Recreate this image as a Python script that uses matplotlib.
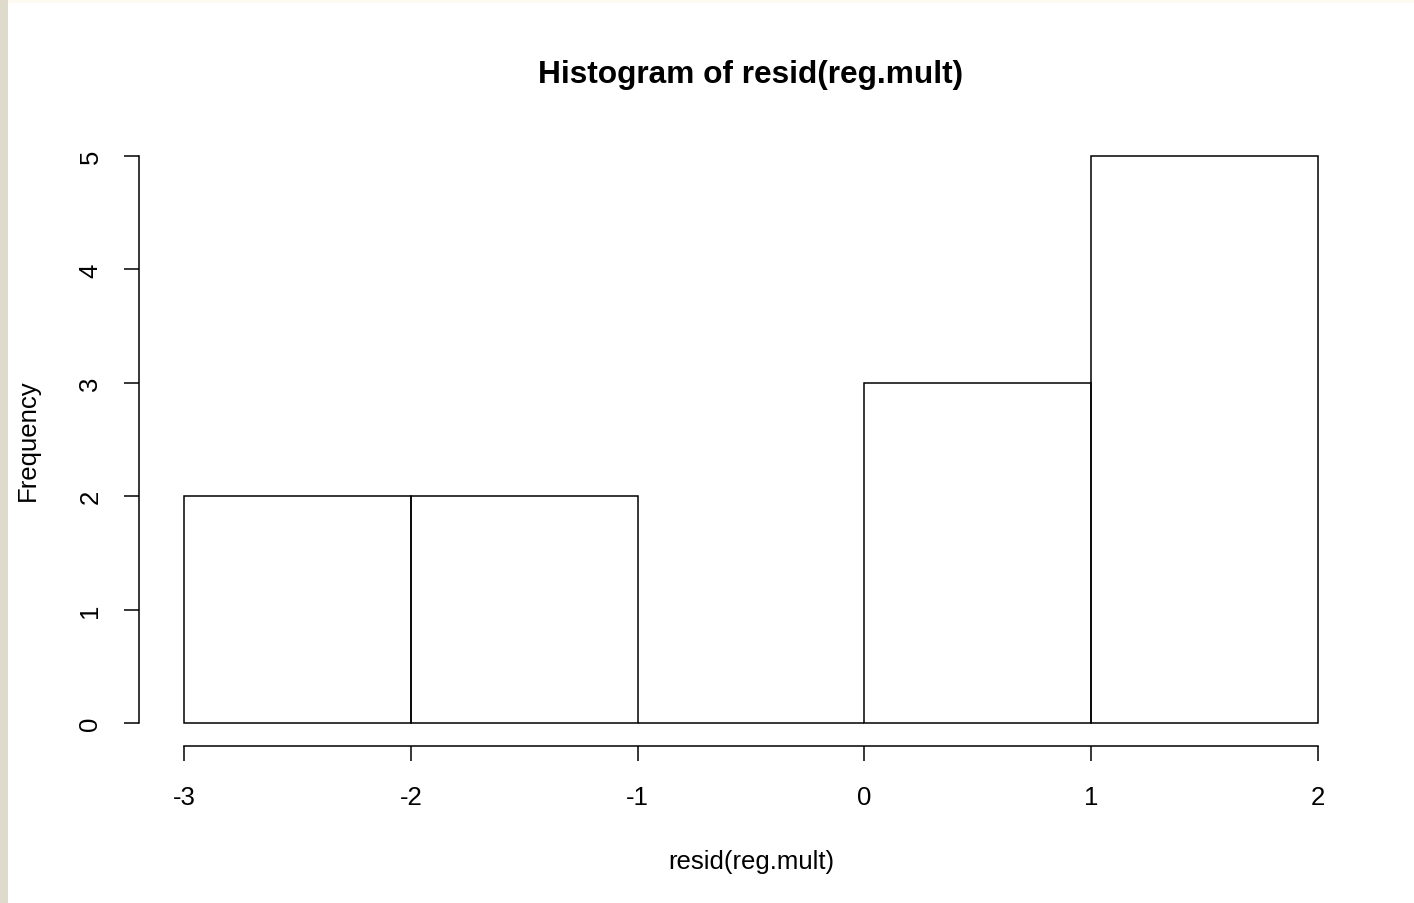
import numpy as np
import matplotlib.pyplot as plt
from matplotlib.patches import Rectangle

# histogram data
bin_edges = [-3, -2, -1, 0, 1, 2]
counts = [2, 2, 0, 3, 5]
y_ticks = [0, 1, 2, 3, 4, 5]

plt.rcParams.update({'font.family': ['Liberation Sans', 'DejaVu Sans'], 'font.size': 18})

fig = plt.figure(figsize=(14.14, 9.04), dpi=100)
fig.patch.set_facecolor('white')

# cream border strips at the top and left edge of the screenshot
fig.patches.append(Rectangle((0, 1 - 4 / 904), 1, 4 / 904, transform=fig.transFigure,
                             facecolor='#fcfaf1', edgecolor='none', zorder=0))
fig.patches.append(Rectangle((0, 0), 8 / 1414, 1, transform=fig.transFigure,
                             facecolor='#dedbcc', edgecolor='none', zorder=0))

ax = fig.add_axes([138.6 / 1414, (904 - 746.7) / 904, 1224.8 / 1414, 612.4 / 904])

lefts = np.array(bin_edges[:-1])
widths = np.diff(bin_edges)
ax.bar(lefts, counts, width=widths, align='edge', fill=False,
       edgecolor='black', linewidth=1.1)

# R-style padded limits and detached axes
span_x = bin_edges[-1] - bin_edges[0]
ax.set_xlim(bin_edges[0] - 0.04 * span_x, bin_edges[-1] + 0.04 * span_x)
ax.set_ylim(-0.04 * max(counts), max(counts) * 1.04)

for side in ['top', 'right']:
    ax.spines[side].set_visible(False)
ax.spines['left'].set_bounds(y_ticks[0], y_ticks[-1])
ax.spines['bottom'].set_bounds(bin_edges[0], bin_edges[-1])
ax.spines['left'].set_linewidth(1.1)
ax.spines['bottom'].set_linewidth(1.1)

ax.set_xticks(bin_edges)
ax.set_xticklabels([str(b) for b in bin_edges])
ax.set_yticks(y_ticks)
ax.set_yticklabels([str(t) for t in y_ticks], rotation=90, va='center')
ax.tick_params(axis='both', length=11, width=1.1, colors='black', labelsize=18.5)
ax.tick_params(axis='x', pad=17)
ax.tick_params(axis='y', pad=15)

ax.set_title('Histogram of resid(reg.mult)', fontsize=22.8, fontweight='bold',
             y=(746.7 - 75) / 612.4, va='center', pad=0)
ax.set_xlabel('resid(reg.mult)', fontsize=18.5, va='center')
ax.xaxis.set_label_coords(0.5, (746.7 - 862) / 612.4)
ax.set_ylabel('Frequency', fontsize=18.5, va='center')
ax.yaxis.set_label_coords((28 - 138.6) / 1224.8, 0.5)

fig.savefig('out.png', dpi=100)
